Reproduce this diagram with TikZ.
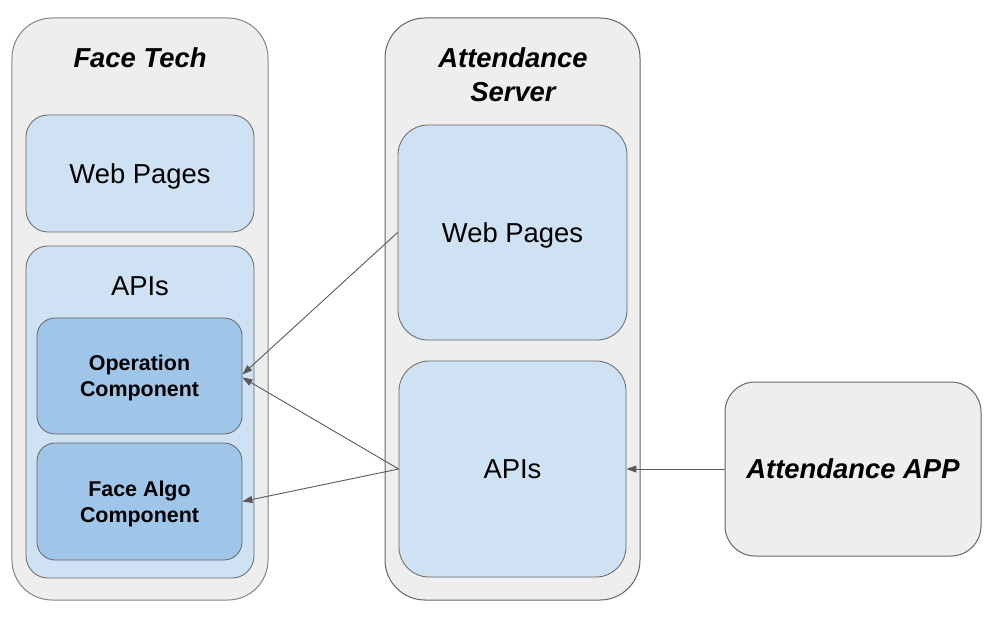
\documentclass[tikz,border=0pt]{standalone}
\usepackage{fontspec}
\setmainfont{Liberation Sans}
\usetikzlibrary{positioning,arrows.meta}
\definecolor{boxgray}{HTML}{EEEEEE}
\definecolor{lightblue}{HTML}{CFE2F3}
\definecolor{midblue}{HTML}{9FC5E8}
\definecolor{edgegray}{HTML}{666666}
\definecolor{arrowgray}{HTML}{595959}
\tikzset{
  group/.style={draw=edgegray!80, fill=boxgray, line width=1bp, rounded corners=40bp, inner sep=0pt},
  part/.style={draw=edgegray, fill=lightblue, line width=0.8bp, rounded corners=22bp, inner sep=0pt, text depth=0pt, align=center, font=\fontsize{27.5}{33}\selectfont},
  comp/.style={part, fill=midblue, rounded corners=18bp, font=\fontsize{21.5}{26}\selectfont\bfseries},
  title/.style={align=center, inner sep=0pt, font=\fontsize{27.5}{34}\selectfont\bfseries\itshape},
  call/.style={draw=arrowgray, line width=0.9bp, -{Triangle[length=10bp,width=7bp]}}
}
\begin{document}
\begin{tikzpicture}[x=1bp,y=-1bp]
  \useasboundingbox (0,0) rectangle (998,617);
  % Face Tech
  \node[group, minimum width=256bp, minimum height=582bp] (ft) at (140,309) {};
  \node[title] (fttitle) at (140,58) {Face Tech};
  \node[part, minimum width=228bp, minimum height=117bp] (ftweb) at (140,173.5) {Web Pages};
  \node[part, minimum width=228bp, minimum height=332bp] (ftapi) at (140,412) {};
  \node[inner sep=0pt, font=\fontsize{27.5}{33}\selectfont] (ftapilbl) at (140,286) {APIs};
  \node[comp, minimum width=205bp, minimum height=116bp] (op) at (139.5,376) {Operation\\Component};
  \node[comp, minimum width=205bp, minimum height=117bp] (algo) at (139.5,501.5) {Face Algo\\Component};
  % Attendance Server
  \node[group, draw=edgegray, minimum width=255bp, minimum height=582bp] (as) at (512.5,309) {};
  \node[title] (astitle) at (513,75) {Attendance\\Server};
  \node[part, rounded corners=30bp, minimum width=229bp, minimum height=215bp] (asweb) at (512.5,232.5) {Web Pages};
  \node[part, rounded corners=30bp, minimum width=227bp, minimum height=216bp] (asapi) at (512.5,469) {APIs};
  % app
  \node[group, draw=edgegray, rounded corners=30bp, minimum width=256bp, minimum height=174bp, title] (app) at (853,469) {Attendance APP};
  % calls
  \draw[call] (asweb.west) -- ([yshift=1.5bp]op.east);
  \draw[call] (asapi.west) -- ([yshift=-1.5bp]op.east);
  \draw[call] (asapi.west) -- (algo.east);
  \draw[call] (app.west) -- (asapi.east);
\end{tikzpicture}
\end{document}
